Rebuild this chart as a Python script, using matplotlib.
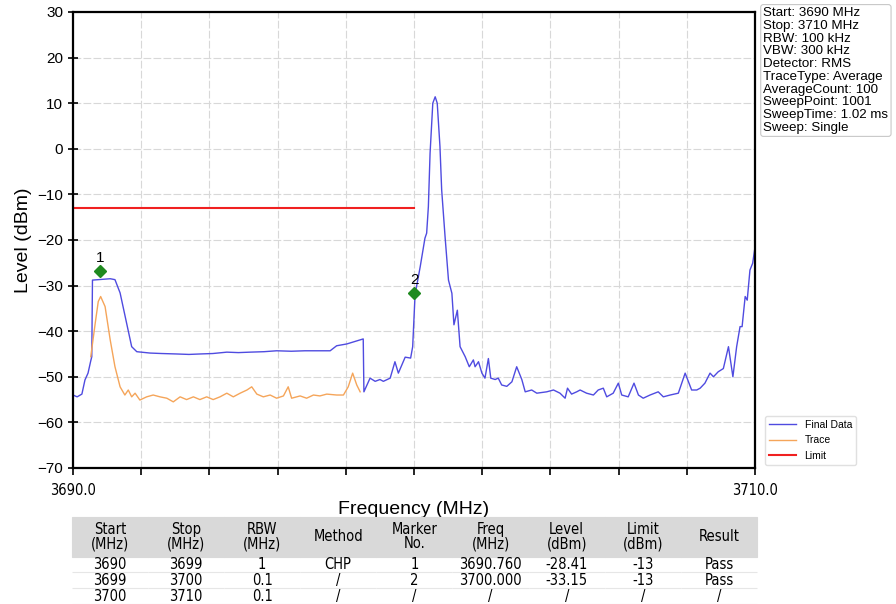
import numpy as np
import matplotlib
matplotlib.use("Agg")
import matplotlib.pyplot as plt

plt.rcParams['font.family'] = ['Liberation Sans', 'DejaVu Sans']

# ---------------------------------------------
# Data

final_freq = [3690.00, 3690.12, 3690.26, 3690.35, 3690.44, 3690.52, 3690.55, 3690.57,
              3691.09, 3691.23, 3691.38, 3691.57, 3691.72, 3691.87, 3692.26, 3692.60,
              3693.04, 3693.40, 3693.72, 3694.10, 3694.51, 3694.85, 3695.19, 3695.60,
              3695.97, 3696.40, 3696.80, 3697.20, 3697.54, 3697.73, 3698.03, 3698.51,
              3698.53, 3698.71, 3698.86, 3699.00, 3699.10, 3699.30, 3699.44, 3699.54,
              3699.74, 3699.90, 3699.96, 3700.03, 3700.18, 3700.32, 3700.37, 3700.42,
              3700.47, 3700.55, 3700.62, 3700.68, 3700.76, 3700.81, 3700.91, 3701.01,
              3701.11, 3701.17, 3701.27, 3701.35, 3701.50, 3701.62, 3701.74, 3701.79,
              3701.89, 3701.99, 3702.08, 3702.18, 3702.25, 3702.38, 3702.47, 3702.57,
              3702.72, 3702.87, 3703.01, 3703.16, 3703.26, 3703.45, 3703.60, 3703.89,
              3704.09, 3704.28, 3704.43, 3704.50, 3704.62, 3704.77, 3704.87, 3705.06,
              3705.26, 3705.40, 3705.55, 3705.65, 3705.84, 3705.99, 3706.09, 3706.28,
              3706.45, 3706.58, 3706.72, 3706.92, 3707.16, 3707.31, 3707.51, 3707.75,
              3707.95, 3708.14, 3708.29, 3708.39, 3708.53, 3708.68, 3708.78, 3708.92,
              3709.07, 3709.22, 3709.35, 3709.46, 3709.56, 3709.62, 3709.71, 3709.77,
              3709.85, 3709.93, 3710.00]
final_level = [-54.0, -54.4, -53.8, -50.7, -49.2, -46.5, -45.6, -28.8,
               -28.5, -28.7, -31.6, -38.2, -43.4, -44.5, -44.8, -44.9,
               -45.0, -45.1, -45.0, -44.9, -44.6, -44.7, -44.6, -44.5,
               -44.3, -44.4, -44.3, -44.3, -44.3, -43.2, -42.8, -41.7,
               -53.3, -50.3, -51.0, -50.6, -51.0, -50.3, -46.7, -49.2,
               -45.7, -45.9, -43.4, -32.0, -25.9, -19.6, -18.5, -12.7,
               -1.0, 10.0, 11.4, 10.0, 0.5, -9.0, -19.3, -28.8,
               -31.7, -38.6, -35.4, -43.4, -45.6, -47.8, -46.3, -47.8,
               -46.7, -49.2, -50.3, -46.0, -50.3, -50.6, -50.3, -51.8,
               -52.1, -51.1, -47.8, -50.6, -53.3, -52.9, -53.6, -53.3,
               -52.9, -53.6, -54.7, -52.5, -53.8, -53.3, -52.9, -53.6,
               -54.0, -52.9, -52.5, -54.4, -53.6, -51.4, -54.0, -54.4,
               -51.4, -54.0, -54.7, -54.0, -53.3, -54.4, -54.0, -53.6,
               -49.2, -52.9, -52.9, -52.5, -51.4, -49.2, -50.0, -48.9,
               -48.2, -43.4, -50.0, -43.4, -39.0, -39.0, -32.4, -33.2,
               -26.6, -25.1, -21.5]

trace_freq = [3690.52, 3690.65, 3690.74, 3690.81, 3690.94, 3691.09, 3691.23, 3691.38,
              3691.52, 3691.62, 3691.72, 3691.82, 3691.96, 3692.16, 3692.35, 3692.55,
              3692.75, 3692.94, 3693.14, 3693.33, 3693.53, 3693.72, 3693.92, 3694.11,
              3694.31, 3694.51, 3694.70, 3694.90, 3695.10, 3695.24, 3695.39, 3695.58,
              3695.78, 3695.97, 3696.17, 3696.31, 3696.41, 3696.66, 3696.85, 3697.05,
              3697.24, 3697.44, 3697.73, 3697.93, 3698.07, 3698.20, 3698.32, 3698.42]
trace_level = [-45.6, -38.3, -33.5, -32.4, -34.6, -41.9, -47.8, -52.2,
               -54.0, -52.9, -54.4, -53.6, -55.1, -54.4, -54.0, -54.4,
               -54.7, -55.5, -54.4, -55.0, -54.4, -55.0, -54.4, -55.0,
               -54.4, -53.6, -54.4, -53.6, -52.9, -52.2, -53.8, -54.4,
               -54.0, -54.7, -54.2, -52.2, -54.7, -54.2, -54.7, -54.0,
               -54.2, -53.8, -54.0, -54.0, -52.2, -49.2, -51.8, -53.3]

limit_freq = [3690.0, 3700.0]
limit_level = [-13, -13]

marker_freq = [3690.79, 3700.0]
marker_level = [-26.8, -31.7]
marker_names = ["1", "2"]

x_ticks = [3690, 3692, 3694, 3696, 3698, 3700, 3702, 3704, 3706, 3708, 3710]
x_tick_labels = ["3690.0", "", "", "", "", "", "", "", "", "", "3710.0"]
y_ticks = [30, 20, 10, 0, -10, -20, -30, -40, -50, -60, -70]

info_lines = ["Start: 3690 MHz", "Stop: 3710 MHz", "RBW: 100 kHz", "VBW: 300 kHz",
              "Detector: RMS", "TraceType: Average", "AverageCount: 100",
              "SweepPoint: 1001", "SweepTime: 1.02 ms", "Sweep: Single"]

table_header = ["Start\n(MHz)", "Stop\n(MHz)", "RBW\n(MHz)", "Method", "Marker\nNo.",
                "Freq\n(MHz)", "Level\n(dBm)", "Limit\n(dBm)", "Result"]
table_rows = [["3690", "3699", "1", "CHP", "1", "3690.760", "-28.41", "-13", "Pass"],
              ["3699", "3700", "0.1", "/", "2", "3700.000", "-33.15", "-13", "Pass"],
              ["3700", "3710", "0.1", "/", "/", "/", "/", "/", "/"]]

# narrow face for the table, falls back if not there
narrow = dict(family="DejaVu Sans", stretch="condensed")

# ---------------------------------------------
# Plot

fig = plt.figure(figsize=(8.96, 6.04), dpi=100)
ax = fig.add_axes([0.0815, 0.2252, 0.7612, 0.755])

ax.plot(final_freq, final_level, color="#4f4be0", lw=1.0, label="Final Data")
ax.plot(trace_freq, trace_level, color="#f5a55a", lw=1.0, label="Trace")
ax.plot(limit_freq, limit_level, color="#f02020", lw=1.5, label="Limit")

ax.plot(marker_freq, marker_level, "D", color="#1f8a1f", ms=6, ls="none")
for f, l, name in zip(marker_freq, marker_level, marker_names):
    ax.text(f, l + 1.3, name, ha="center", va="bottom", fontsize=11)

ax.set_xlim(3690, 3710)
ax.set_ylim(-70, 30)
ax.set_xticks(x_ticks)
ax.set_xticklabels(x_tick_labels, fontsize=10.5, **narrow)
ax.set_yticks(y_ticks)
ax.tick_params(axis="y", labelsize=11, direction="inout", length=7, width=1.2)
ax.tick_params(axis="x", direction="out", length=5, width=1.2, pad=6)
ax.grid(True, color="#d8d8d8", lw=0.8, ls="--", dashes=(7, 2))
for sp in ax.spines.values():
    sp.set_linewidth(1.6)

ax.set_xlabel("Frequency (MHz)", fontsize=14, labelpad=2)
ax.set_ylabel("Level (dBm)", fontsize=14, labelpad=4)

fig.text(0.852, 0.988, "\n".join(info_lines), va="top", ha="left", fontsize=9.6,
         linespacing=1.08,
         bbox=dict(boxstyle="round,pad=0.2", fc="white", ec="#c8c8c8", lw=0.8))

fig.legend(loc="lower left", bbox_to_anchor=(0.848, 0.222), fontsize=7.5,
           handlelength=2.6, frameon=True, edgecolor="#e0e0e0", framealpha=1)

# table below the chart
tax = fig.add_axes([0.080, 0.0, 0.765, 0.144])
tax.axis("off")
tbl = tax.table(cellText=table_rows, colLabels=table_header, cellLoc="center",
                bbox=[0, 0, 1, 1])
tbl.auto_set_font_size(False)
for (r, c), cell in tbl.get_celld().items():
    cell.set_text_props(fontsize=10.5, linespacing=0.95, **narrow)
    cell.set_linewidth(0.8)
    if r == 0:
        cell.set_height(2.5)
        cell.set_facecolor("#d9d9d9")
        cell.set_edgecolor("#d9d9d9")
    else:
        cell.set_height(1.0)
        cell.set_edgecolor("#e6e6e6")
        cell.visible_edges = "B"

fig.savefig("out.png", dpi=100)
